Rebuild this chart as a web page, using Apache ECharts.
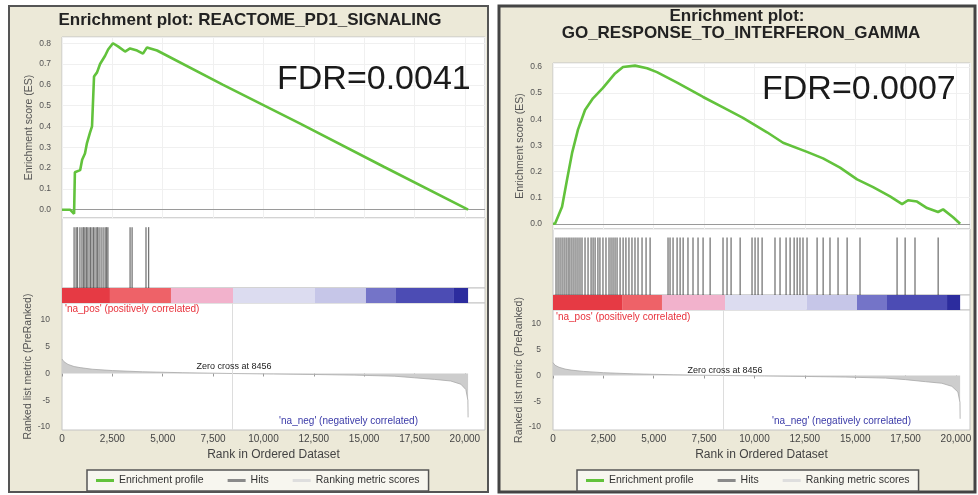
<!DOCTYPE html>
<html>
<head>
<meta charset="utf-8">
<script src="https://cdn.jsdelivr.net/npm/echarts@6/dist/echarts.min.js"></script>
<style>
html,body{margin:0;padding:0;background:#fff;}
#chart{width:978px;height:495px;}
</style>
</head>
<body>
<div id="chart"></div>
<script>
// ---- values ----
// left: REACTOME_PD1_SIGNALING
var esRankL = [0, 400, 600, 640, 900, 1000, 1140, 1240, 1390, 1490, 1590, 1740, 1890, 2140, 2290, 2530, 2780, 3130, 3380, 3730, 4020, 4220, 4720, 8000, 11800, 16000, 20160];
var esValL  = [0.0, 0.0, -0.02, 0.18, 0.19, 0.24, 0.27, 0.32, 0.37, 0.40, 0.64, 0.66, 0.70, 0.74, 0.77, 0.80, 0.785, 0.76, 0.775, 0.765, 0.75, 0.78, 0.765, 0.60, 0.415, 0.205, 0.0];
var hitsL = [600, 700, 770, 890, 990, 1070, 1140, 1220, 1290, 1390, 1440, 1540, 1590, 1690, 1760, 1840, 1940, 2040, 2140, 2210, 2280, 3380, 3480, 4170, 4300];
var metricRankL = [0, 100, 300, 600, 900, 1500, 2500, 4000, 6000, 8456, 10500, 12500, 14500, 16500, 17500, 18500, 19300, 19800, 20050, 20150, 20160];
var metricValL  = [2.7, 2.2, 1.7, 1.3, 1.1, 0.8, 0.55, 0.32, 0.15, 0, -0.1, -0.18, -0.3, -0.5, -0.8, -1.1, -1.4, -2.0, -3.0, -5.0, -8.2];
var barBreaksL = [0, 2380, 5410, 8490, 12560, 15090, 16580, 19460, 20160];

// right: GO_RESPONSE_TO_INTERFERON_GAMMA
var esRankR = [0, 100, 450, 700, 945, 1240, 1590, 1985, 2480, 3080, 3475, 4070, 4670, 5160, 6160, 7450, 8440, 9430, 10625, 11420, 12610, 13405, 14250, 15095, 15890, 16730, 17330, 17625, 18070, 18570, 19115, 19365, 19860, 20210];
var esValR  = [0.0, 0.0, 0.065, 0.17, 0.27, 0.36, 0.435, 0.48, 0.52, 0.575, 0.60, 0.605, 0.595, 0.58, 0.54, 0.485, 0.445, 0.405, 0.35, 0.31, 0.275, 0.25, 0.215, 0.17, 0.14, 0.105, 0.075, 0.09, 0.085, 0.06, 0.045, 0.055, 0.025, 0.0];
var hitsR = [150, 250, 350, 450, 550, 650, 750, 840, 940, 1040, 1140, 1240, 1340, 1440, 1590, 1740, 1890, 1990, 2090, 2230, 2330, 2480, 2630, 2780, 2880, 2980, 3080, 3180, 3330, 3480, 3620, 3770, 3920, 4070, 4220, 4420, 4620, 4820,
             5710, 5810, 5960, 6160, 6310, 6460, 6700, 6950, 7200, 7450, 7800, 8440, 8640, 8840, 9290, 9880, 10030, 10180, 10380, 11020, 11270, 11570, 11770, 11970, 12120, 12260, 12410, 12610, 13110, 13410, 13750, 14150, 14600, 15240, 17080, 17480, 17970, 19120];
var metricRankR = [0, 100, 300, 600, 900, 1500, 2500, 4000, 6000, 8456, 10500, 12500, 14500, 16500, 17500, 18500, 19300, 19800, 20100, 20200, 20210];
var metricValR  = [2.5, 2.0, 1.6, 1.25, 1.05, 0.8, 0.55, 0.32, 0.15, 0, -0.1, -0.18, -0.3, -0.5, -0.8, -1.2, -1.5, -2.1, -3.2, -5.2, -8.4];
var barBreaksR = [0, 3430, 5410, 8540, 12600, 15090, 16580, 19560, 20210];

var zeroCross = 8456;
var barColors = ['#e63a44', '#ee6268', '#f2b2cc', '#dcdcf0', '#c6c6e8', '#7474c8', '#4c4cb4', '#2c2c9e'];

var FONT = 'Liberation Sans, Arial, sans-serif';
var GREEN = '#62c23c';

function pairs(xs, ys) {
	var out = [];
	for (var i = 0; i < xs.length; i++) out.push([xs[i], ys[i]]);
	return out;
}
function segments(breaks) {
	var out = [];
	for (var i = 0; i < breaks.length - 1; i++) out.push([breaks[i], breaks[i + 1], i]);
	return out;
}
function fmtRank(v) {
	return v.toLocaleString('en-US');
}

function renderHit(params, api) {
	var top = api.coord([api.value(0), 1]);
	var bot = api.coord([api.value(0), 0]);
	return {
		type: 'line',
		shape: {x1: top[0], y1: top[1], x2: bot[0], y2: bot[1]},
		style: {stroke: '#1a1a1a', lineWidth: 1.3, opacity: 0.6}
	};
}
function renderBar(params, api) {
	var p0 = api.coord([api.value(0), 1]);
	var p1 = api.coord([api.value(1), 0]);
	return {
		type: 'rect',
		shape: {x: p0[0], y: p0[1], width: p1[0] - p0[0], height: p1[1] - p0[1]},
		style: {fill: barColors[api.value(2)]}
	};
}

var grids = [], xAxes = [], yAxes = [], series = [], legends = [];

function addPanel(p) {
	var g = grids.length;
	var gridBase = {left: p.left, width: p.width, show: true, backgroundColor: '#fff', borderColor: '#c4c4c4', borderWidth: 1};
	grids.push(Object.assign({top: p.esTop, height: p.esH}, gridBase));
	grids.push(Object.assign({top: p.hitTop, height: p.hitH}, gridBase));
	grids.push(Object.assign({top: p.barTop, height: p.barH}, gridBase));
	grids.push(Object.assign({top: p.metTop, height: p.metH}, gridBase));

	var hiddenX = {type: 'value', min: 0, max: p.xMax, axisLabel: {show: false}, axisTick: {show: false}, axisLine: {show: false}, splitLine: {show: false}};
	xAxes.push({gridIndex: g, type: 'value', min: 0, max: p.xMax, interval: 2500,
		axisLabel: {show: false}, axisTick: {show: false}, axisLine: {show: false},
		splitLine: {show: true, lineStyle: {color: '#f0f0f0'}}});
	xAxes.push(Object.assign({gridIndex: g + 1}, hiddenX));
	xAxes.push(Object.assign({gridIndex: g + 2}, hiddenX));
	xAxes.push({
		gridIndex: g + 3, type: 'value', min: 0, max: p.xMax, interval: 2500,
		name: 'Rank in Ordered Dataset', nameLocation: 'middle', nameGap: 19,
		nameTextStyle: {fontFamily: FONT, fontSize: 12, color: '#444'},
		axisLine: {show: false},
		axisTick: {show: true, length: 3, lineStyle: {color: '#999'}},
		axisLabel: {fontFamily: FONT, fontSize: 10, color: '#444', margin: 4, showMaxLabel: false, formatter: fmtRank},
		splitLine: {show: false}
	});

	var yLabel = {fontFamily: FONT, fontSize: 8.5, color: '#555'};
	var yName = {fontFamily: FONT, fontSize: 10.5, color: '#555'};
	yAxes.push({
		gridIndex: g, type: 'value', min: p.esMin, max: p.esMax, minInterval: 0.1, maxInterval: 0.1,
		name: 'Enrichment score (ES)', nameLocation: 'middle', nameGap: 27, nameTextStyle: yName,
		axisLine: {show: false}, axisTick: {show: false},
		axisLabel: Object.assign({margin: 11, showMinLabel: false, showMaxLabel: false, formatter: function (v) { return v.toFixed(1); }}, yLabel),
		splitLine: {show: true, lineStyle: {color: '#f0f0f0'}}
	});
	yAxes.push({gridIndex: g + 1, type: 'value', min: 0, max: 1.15, show: false});
	yAxes.push({gridIndex: g + 2, type: 'value', min: 0, max: 1, show: false});
	yAxes.push({
		gridIndex: g + 3, type: 'value', min: p.metMin, max: p.metMax, minInterval: 5, maxInterval: 5,
		name: 'Ranked list metric (PreRanked)', nameLocation: 'middle', nameGap: 27, nameTextStyle: yName,
		axisLine: {show: false}, axisTick: {show: false},
		axisLabel: Object.assign({margin: 12, showMinLabel: false, showMaxLabel: false}, yLabel),
		splitLine: {show: false}
	});

	series.push({
		name: 'Enrichment profile', type: 'line', xAxisIndex: g, yAxisIndex: g,
		data: pairs(p.esRank, p.esVal), symbol: 'none', z: 5,
		lineStyle: {color: GREEN, width: 2.6}, itemStyle: {color: GREEN},
		markLine: {silent: true, symbol: ['none', 'none'], label: {show: false},
			lineStyle: {color: '#9a9a9a', type: 'solid', width: 1}, data: [{yAxis: 0}]}
	});
	series.push({
		name: 'Hits', type: 'custom', xAxisIndex: g + 1, yAxisIndex: g + 1,
		renderItem: renderHit, itemStyle: {color: '#888'},
		data: p.hits.map(function (r) { return [r]; })
	});
	series.push({
		name: 'colorbar', type: 'custom', xAxisIndex: g + 2, yAxisIndex: g + 2,
		renderItem: renderBar, data: segments(p.breaks)
	});
	series.push({
		name: 'Ranking metric scores', type: 'line', xAxisIndex: g + 3, yAxisIndex: g + 3,
		data: pairs(p.metRank, p.metVal), symbol: 'none',
		lineStyle: {color: '#a8a8a8', width: 0.8}, itemStyle: {color: '#d8d8d8'},
		areaStyle: {color: '#cdcdcd', opacity: 1},
		markLine: {silent: true, symbol: ['none', 'none'], label: {show: false},
			lineStyle: {color: '#dddddd', type: 'solid', width: 1}, data: [{xAxis: zeroCross}]}
	});

	legends.push({
		left: p.legendLeft, top: 470, icon: 'rect', itemWidth: 18, itemHeight: 3, itemGap: 24,
		padding: [5, 9], backgroundColor: '#f7f6ef', borderColor: '#555', borderWidth: 1.5,
		textStyle: {fontFamily: FONT, fontSize: 10.5, color: '#333'},
		data: [
			{name: 'Enrichment profile', itemStyle: {color: GREEN}},
			{name: 'Hits', itemStyle: {color: '#8a8a8a'}},
			{name: 'Ranking metric scores', itemStyle: {color: '#dedede'}}
		]
	});
}

addPanel({
	left: 62, width: 423, xMax: 21000,
	esTop: 37, esH: 181, esMin: -0.04, esMax: 0.83,
	hitTop: 218, hitH: 70, barTop: 288, barH: 15,
	metTop: 303, metH: 127, metMin: -10.56, metMax: 13.18,
	esRank: esRankL, esVal: esValL, hits: hitsL, breaks: barBreaksL,
	metRank: metricRankL, metVal: metricValL, legendLeft: 87
});
addPanel({
	left: 553, width: 417, xMax: 20700,
	esTop: 63, esH: 166, esMin: -0.02, esMax: 0.615,
	hitTop: 229, hitH: 66, barTop: 295, barH: 15,
	metTop: 310, metH: 120, metMin: -10.58, metMax: 12.72,
	esRank: esRankR, esVal: esValR, hits: hitsR, breaks: barBreaksR,
	metRank: metricRankR, metVal: metricValR, legendLeft: 577
});

function txt(x, y, s, font, color, align) {
	return {
		type: 'text', x: x, y: y, z: 20,
		style: {text: s, font: font, fill: color, textAlign: align || 'left', textVerticalAlign: 'middle'}
	};
}
var panelBg = '#ece9d8';
var titleFont = 'bold 17px ' + FONT;
var graphics = [
	{type: 'rect', z: -10, shape: {x: 9, y: 6, width: 479, height: 486}, style: {fill: panelBg, stroke: '#555', lineWidth: 2}},
	{type: 'rect', z: -10, shape: {x: 499, y: 6, width: 476, height: 486}, style: {fill: panelBg, stroke: '#444', lineWidth: 3}},
	txt(250, 20, 'Enrichment plot: REACTOME_PD1_SIGNALING', titleFont, '#222', 'center'),
	txt(737, 16, 'Enrichment plot:', titleFont, '#222', 'center'),
	txt(741, 33, 'GO_RESPONSE_TO_INTERFERON_GAMMA', titleFont, '#222', 'center'),
	txt(277, 80, 'FDR=0.0041', '34px ' + FONT, '#1a1a1a'),
	txt(762, 90, 'FDR=0.0007', '34px ' + FONT, '#1a1a1a'),
	txt(234, 367, 'Zero cross at ' + zeroCross, '9px ' + FONT, '#222', 'center'),
	txt(725, 371, 'Zero cross at ' + zeroCross, '9px ' + FONT, '#222', 'center'),
	txt(65, 309, "'na_pos' (positively correlated)", '10px ' + FONT, '#e8323c'),
	txt(556, 317, "'na_pos' (positively correlated)", '10px ' + FONT, '#e8323c'),
	txt(418, 421, "'na_neg' (negatively correlated)", '10px ' + FONT, '#3a3aa8', 'right'),
	txt(911, 421, "'na_neg' (negatively correlated)", '10px ' + FONT, '#3a3aa8', 'right')
];

var chart = echarts.init(document.getElementById('chart'));
chart.setOption({
	animation: false,
	backgroundColor: '#fff',
	grid: grids,
	xAxis: xAxes,
	yAxis: yAxes,
	legend: legends,
	series: series,
	graphic: graphics
});
</script>
</body>
</html>
